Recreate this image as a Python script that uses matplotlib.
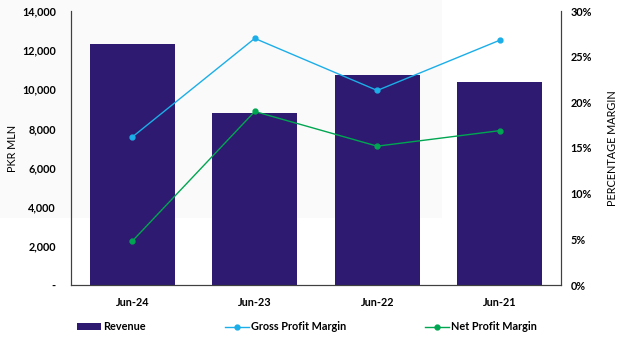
import matplotlib.pyplot as plt
from matplotlib.patches import Rectangle
from matplotlib.ticker import FuncFormatter
import numpy as np

periods = ["Jun-24", "Jun-23", "Jun-22", "Jun-21"]
revenue = [12300, 8770, 10730, 10370]          # PKR mln
gross_margin = [16.2, 27.0, 21.3, 26.8]         # %
net_margin = [4.8, 19.0, 15.2, 16.9]            # %

bar_col = "#2E1A70"
gross_col = "#1BAEE8"
net_col = "#00A651"
font = "Lato"

fig = plt.figure(figsize=(6.24, 3.44), dpi=100)
# faint panel behind the upper left of the chart
fig.patches.append(Rectangle((0, 1 - 218 / 344), 442 / 624, 218 / 344,
                             transform=fig.transFigure, facecolor="#fafafa",
                             edgecolor="none", zorder=-1))

ax = fig.add_axes([71 / 624, 59 / 344, 490 / 624, 274 / 344])
ax.patch.set_alpha(0)
x = np.arange(len(periods))
bars = ax.bar(x, revenue, width=0.69, color=bar_col, label="Revenue", zorder=2)
ax.set_xlim(-0.5, len(periods) - 0.5)
ax.set_ylim(0, 14000)
ax.set_yticks(range(0, 14001, 2000))
ax.yaxis.set_major_formatter(FuncFormatter(lambda v, p: "-" if v == 0 else f"{v:,.0f}"))
ax.set_xticks(x)
ax.set_xticklabels(periods)
ax.set_ylabel("PKR MLN", fontsize=7.8, family=font, labelpad=3)

ax2 = ax.twinx()
ax2.patch.set_alpha(0)
g, = ax2.plot(x, gross_margin, color=gross_col, lw=1, marker="o", ms=3.5,
              label="Gross Profit Margin", zorder=3)
n, = ax2.plot(x, net_margin, color=net_col, lw=1, marker="o", ms=3.5,
              label="Net Profit Margin", zorder=3)
ax2.set_ylim(0, 30)
ax2.set_yticks(range(0, 31, 5))
ax2.yaxis.set_major_formatter(FuncFormatter(lambda v, p: f"{v:.0f}%"))
ax2.set_ylabel("PERCENTAGE MARGIN", fontsize=7.8, family=font, labelpad=11)

for a in (ax, ax2):
    a.spines["top"].set_visible(False)
    for s in ("left", "right", "bottom"):
        a.spines[s].set_color("#404040")
        a.spines[s].set_linewidth(0.8)
    a.tick_params(length=0, labelsize=7.8)
    for lbl in a.get_xticklabels() + a.get_yticklabels():
        lbl.set_family(font)
        lbl.set_fontweight("bold")
ax.tick_params(axis="y", pad=11)
ax.tick_params(axis="x", pad=9)
ax2.tick_params(axis="y", pad=7)

leg = fig.legend(handles=[bars, g, n], loc="center", ncol=3, mode="expand",
                 bbox_to_anchor=(73 / 624, 0.03, 468 / 624, 0.04), frameon=False,
                 prop={"family": font, "weight": "bold", "size": 7.8},
                 handlelength=2.2, handletextpad=0.2, borderaxespad=0)

fig.savefig("out.png", dpi=100)
